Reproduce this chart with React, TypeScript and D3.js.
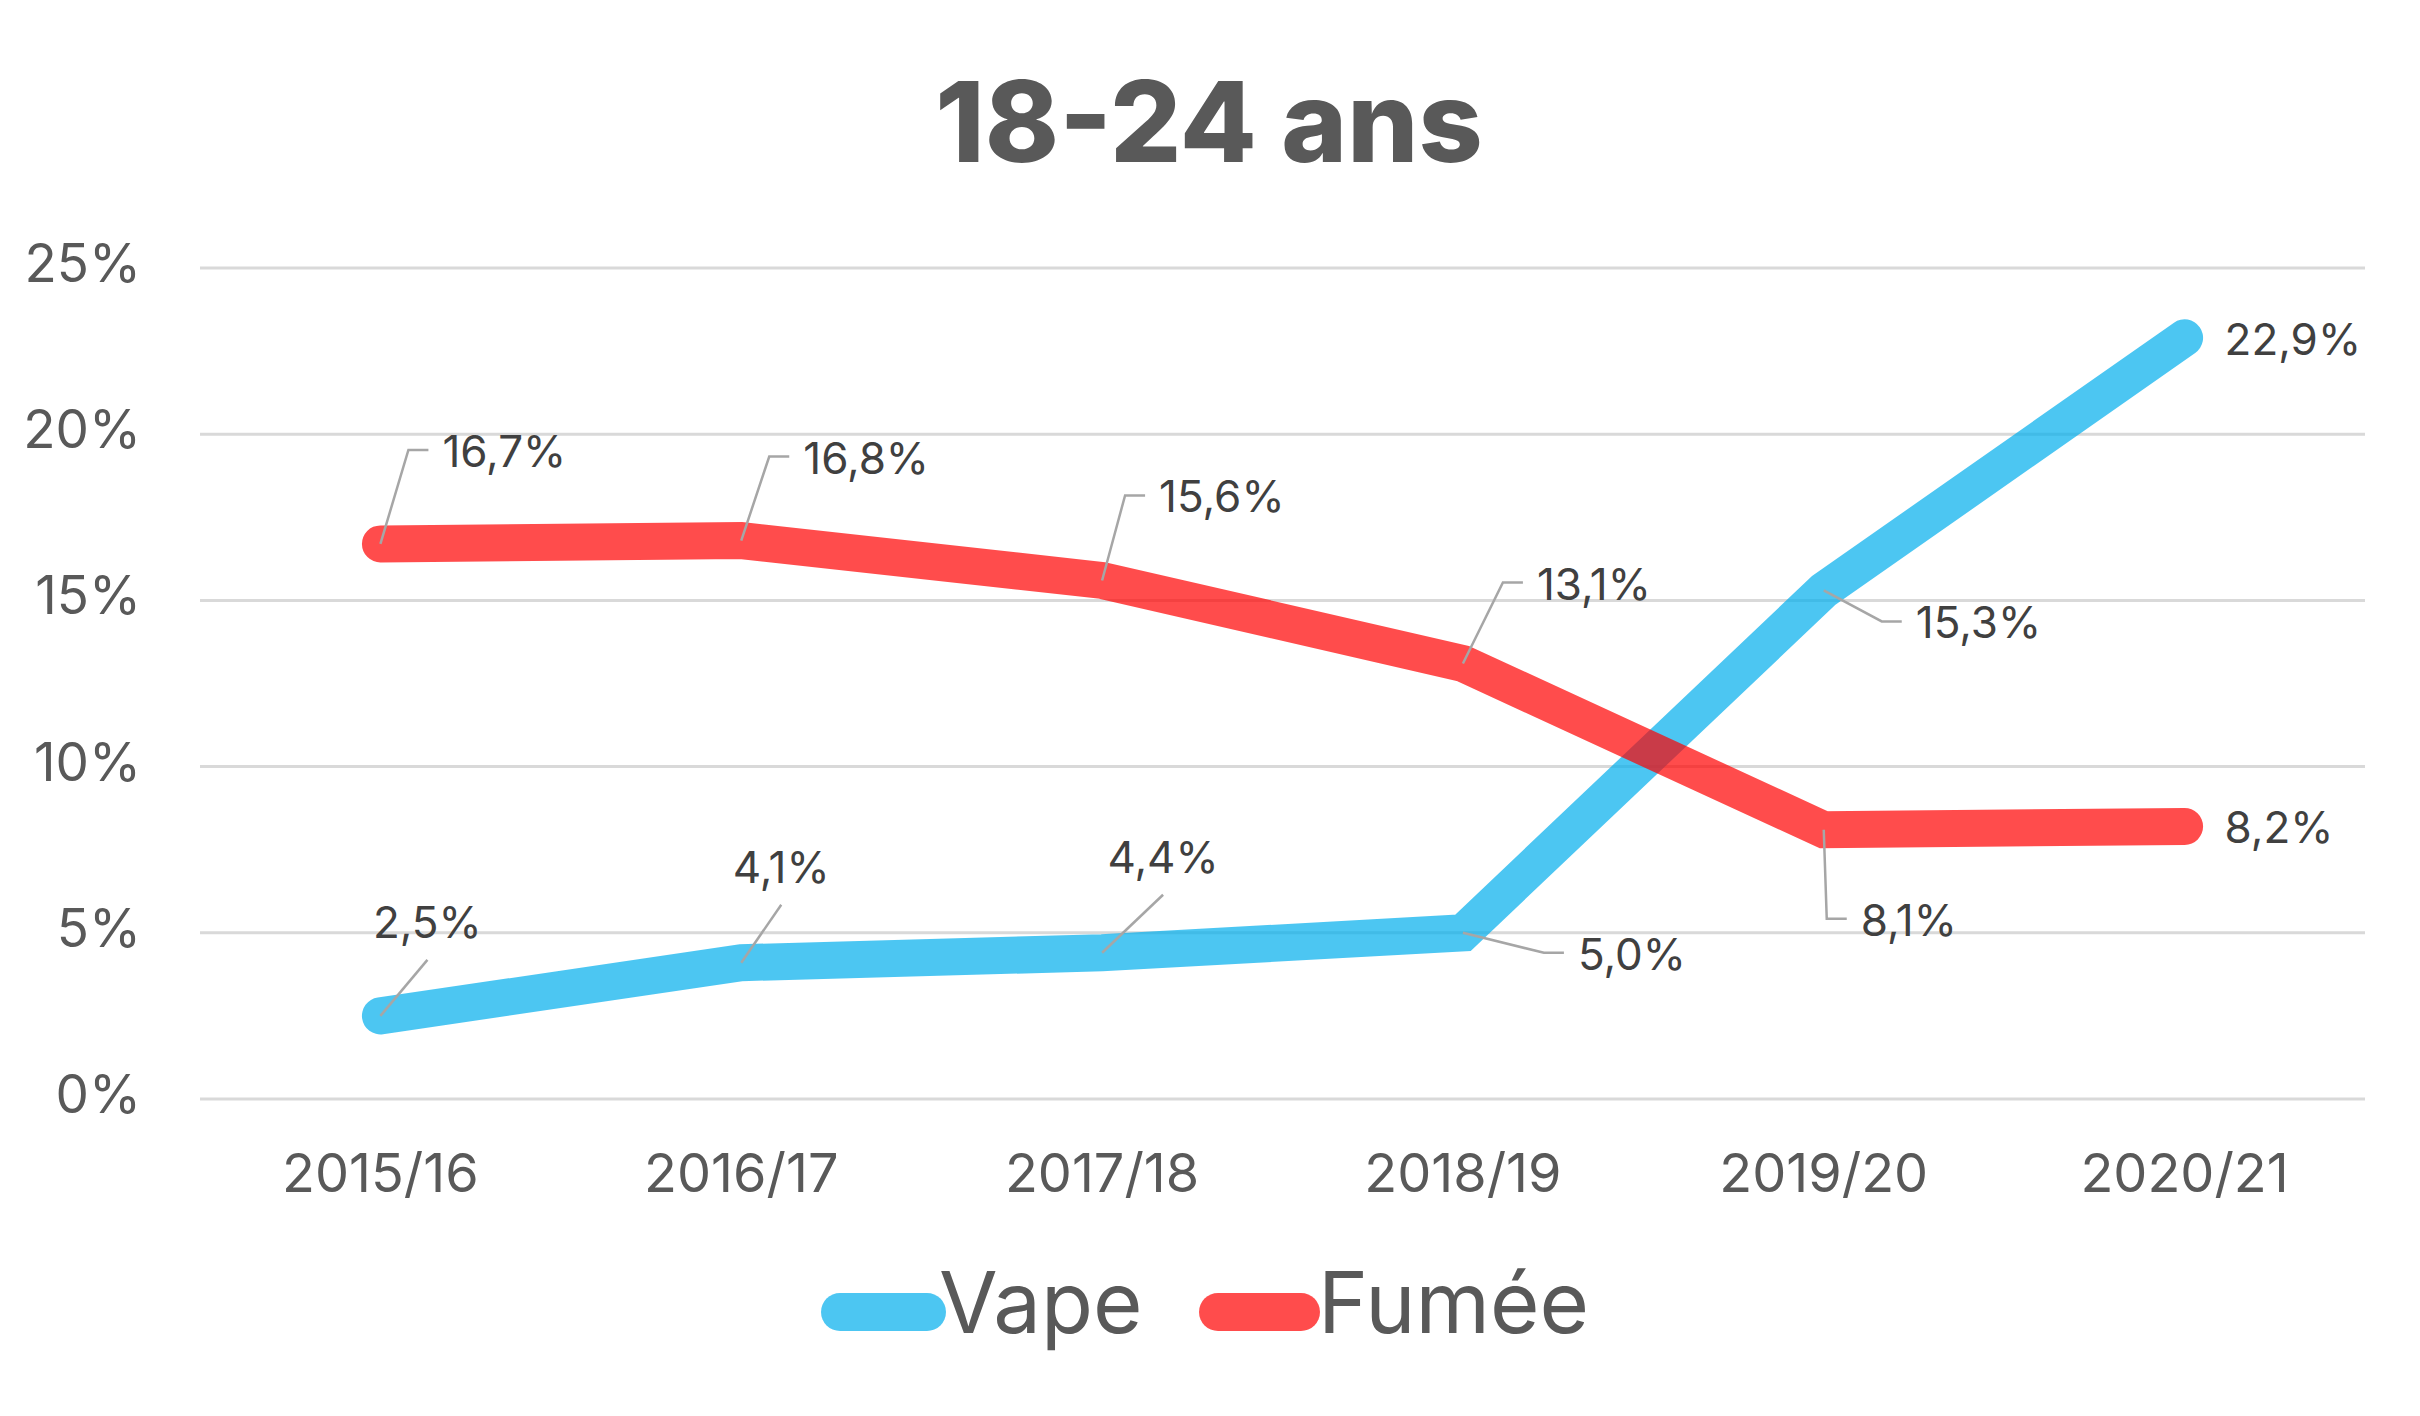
import React from "react";
import * as d3 from "d3";

// ---- data ----
const categories = ["2015/16", "2016/17", "2017/18", "2018/19", "2019/20", "2020/21"];
const vapeValues = [2.5, 4.1, 4.4, 5.0, 15.3, 22.9];
const fumeeValues = [16.7, 16.8, 15.6, 13.1, 8.1, 8.2];
const yTicks = [0, 5, 10, 15, 20, 25];
const seriesNames = ["Vape", "Fumée"];
const titleText = "18-24 ans";

// ---- layout / style (not data) ----
const W = 2420;
const H = 1416;
const FONT = "Inter, 'Noto Sans', sans-serif";
const AXIS_COLOR = "#595959";
const LABEL_COLOR = "#404040";
const GRID_COLOR = "#d9d9d9";
const LEADER_COLOR = "#a6a6a6";
const VAPE_COLOR = "rgb(0,174,236)";
const FUMEE_COLOR = "rgb(255,0,0)";
const LINE_OPACITY = 0.7;

type LabelPlace =
  | { kind: "right" }
  | { kind: "above"; dx: number; dy: number }
  | { kind: "elbow"; dx: number; dy: number };

const vapeLabelPlaces: LabelPlace[] = [
  { kind: "above", dx: 47, dy: -56 },
  { kind: "above", dx: 40, dy: -58 },
  { kind: "above", dx: 61, dy: -58 },
  { kind: "elbow", dx: 81, dy: 20 },
  { kind: "elbow", dx: 58, dy: 31 },
  { kind: "right" },
];
const fumeeLabelPlaces: LabelPlace[] = [
  { kind: "elbow", dx: 28, dy: -94 },
  { kind: "elbow", dx: 28, dy: -84 },
  { kind: "elbow", dx: 23, dy: -85 },
  { kind: "elbow", dx: 40, dy: -81 },
  { kind: "elbow", dx: 3, dy: 89 },
  { kind: "right" },
];

const fmt = (v: number) => v.toFixed(1).replace(".", ",") + "%";

export default function App() {
  const x = d3.scaleBand<string>().domain(categories).range([200, 2365]);
  const cx = (c: string) => (x(c) ?? 0) + x.bandwidth() / 2;
  const y = d3.scaleLinear().domain([0, 25]).range([1099, 268]);

  const line = d3
    .line<number>()
    .x((_, i) => cx(categories[i]))
    .y((v) => y(v));

  const series = [
    { name: seriesNames[0], values: vapeValues, color: VAPE_COLOR, places: vapeLabelPlaces },
    { name: seriesNames[1], values: fumeeValues, color: FUMEE_COLOR, places: fumeeLabelPlaces },
  ];

  const labelFont = 44;

  const renderLabel = (v: number, i: number, place: LabelPlace, key: string) => {
    const px = cx(categories[i]);
    const py = y(v);
    const text = fmt(v);
    if (place.kind === "right") {
      return (
        <text key={key} x={px + 40} y={py + 17} fontSize={labelFont} fill={LABEL_COLOR} fontFamily={FONT}>
          {text}
        </text>
      );
    }
    if (place.kind === "above") {
      const ex = px + place.dx;
      const ey = py + place.dy;
      return (
        <g key={key}>
          <line x1={px} y1={py} x2={ex} y2={ey} stroke={LEADER_COLOR} strokeWidth={2.5} />
          <text x={ex} y={ey - 22} textAnchor="middle" fontSize={labelFont} fill={LABEL_COLOR} fontFamily={FONT}>
            {text}
          </text>
        </g>
      );
    }
    const ex = px + place.dx;
    const ey = py + place.dy;
    const hx = ex + 20;
    return (
      <g key={key}>
        <polyline
          points={`${px},${py} ${ex},${ey} ${hx},${ey}`}
          fill="none"
          stroke={LEADER_COLOR}
          strokeWidth={2.5}
        />
        <text x={hx + 14} y={ey + 17} fontSize={labelFont} fill={LABEL_COLOR} fontFamily={FONT}>
          {text}
        </text>
      </g>
    );
  };

  const legendItems = [
    { name: seriesNames[0], color: VAPE_COLOR, x1: 840, x2: 927, tx: 939 },
    { name: seriesNames[1], color: FUMEE_COLOR, x1: 1218, x2: 1301, tx: 1318 },
  ];

  return (
    <svg
      width={W}
      height={H}
      viewBox={`0 0 ${W} ${H}`}
      style={{ position: "absolute", left: 0, top: 0, display: "block", background: "#fff" }}
    >
      <rect x={0} y={0} width={W} height={H} fill="#fff" />
      {/* title */}
      <text
        x={1209}
        y={162}
        textAnchor="middle"
        fontSize={112}
        fontWeight={800}
        fill={AXIS_COLOR}
        fontFamily={FONT}
      >
        {titleText}
      </text>

      {/* gridlines */}
      {yTicks.map((t) => (
        <line key={"g" + t} x1={200} x2={2365} y1={y(t)} y2={y(t)} stroke={GRID_COLOR} strokeWidth={3} />
      ))}
      {/* y labels */}
      {yTicks.map((t) => (
        <text
          key={"yl" + t}
          x={141}
          y={y(t) + 14}
          textAnchor="end"
          fontSize={53}
          fill={AXIS_COLOR}
          fontFamily={FONT}
        >
          {t + "%"}
        </text>
      ))}
      {/* x labels */}
      {categories.map((c) => (
        <text key={"xl" + c} x={cx(c)} y={1192} textAnchor="middle" fontSize={54} fill={AXIS_COLOR} fontFamily={FONT}>
          {c}
        </text>
      ))}

      {/* lines */}
      {series.map((s) => (
        <path
          key={"l" + s.name}
          d={line(s.values) ?? ""}
          fill="none"
          stroke={s.color}
          strokeOpacity={LINE_OPACITY}
          strokeWidth={37}
          strokeLinecap="round"
          strokeLinejoin="miter"
        />
      ))}

      {/* data labels */}
      {series.map((s) => s.values.map((v, i) => renderLabel(v, i, s.places[i], s.name + i)))}

      {/* legend */}
      {legendItems.map((it) => (
        <g key={"lg" + it.name}>
          <line
            x1={it.x1}
            x2={it.x2}
            y1={1312}
            y2={1312}
            stroke={it.color}
            strokeOpacity={LINE_OPACITY}
            strokeWidth={38}
            strokeLinecap="round"
          />
          <text x={it.tx} y={1333} fontSize={85} fill={AXIS_COLOR} fontFamily={FONT}>
            {it.name}
          </text>
        </g>
      ))}
    </svg>
  );
}
